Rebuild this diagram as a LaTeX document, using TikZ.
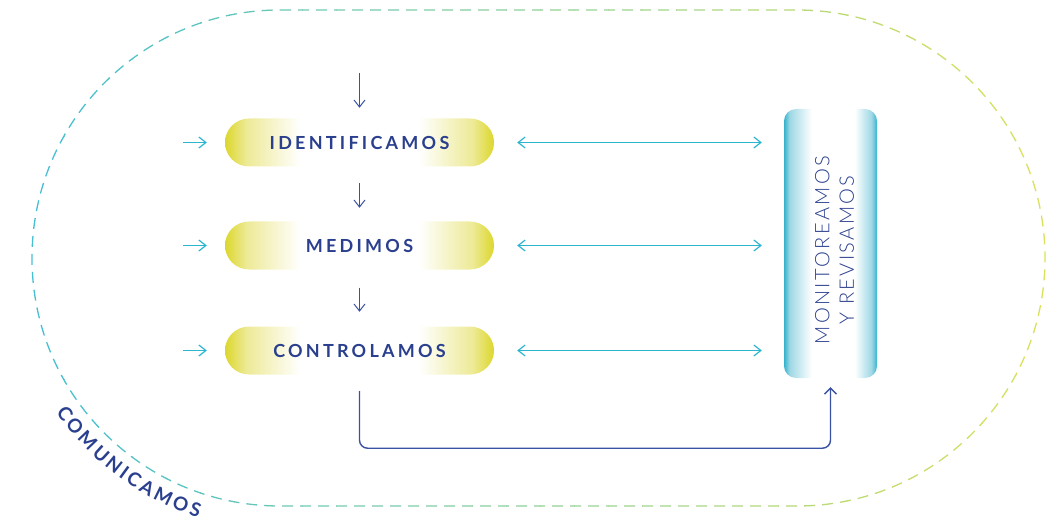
\documentclass[tikz,border=0pt]{standalone}
\usepackage{fontspec}
\usetikzlibrary{arrows.meta,decorations.text}
\newfontfamily\pillfont[LetterSpace=18]{Lato Bold}
\newfontfamily\comfont{Lato Bold}
\newfontfamily\monfont[LetterSpace=12]{Lato Light}
\definecolor{navy}{HTML}{2A3F8E}
\definecolor{navyar}{HTML}{3A52A2}
\definecolor{cyanar}{HTML}{2BB6D0}
\definecolor{pillyel}{HTML}{DCD72C}
\definecolor{pillyelL}{HTML}{EDEA97}
\definecolor{moncyan}{HTML}{36B3CC}
\definecolor{moncyanL}{HTML}{9ED8E5}
\definecolor{tealline}{HTML}{45BFD3}
\definecolor{yelline}{HTML}{DCE25A}
\pgfdeclarehorizontalshading{pillshade}{100bp}{color(0bp)=(pillyel); color(25bp)=(pillyel); color(29bp)=(pillyelL); color(39bp)=(white); color(61bp)=(white); color(71bp)=(pillyelL); color(75bp)=(pillyel); color(100bp)=(pillyel)}
\pgfdeclarehorizontalshading{monshade}{100bp}{color(0bp)=(moncyan); color(25bp)=(moncyan); color(28bp)=(moncyanL); color(40bp)=(white); color(63bp)=(white); color(72bp)=(moncyanL); color(75bp)=(moncyan); color(100bp)=(moncyan)}
\tikzset{
  pill/.style={shade, shading=pillshade, minimum width=269pt, minimum height=48pt,
    rounded corners=24pt, inner sep=0pt, text=navy,
    font={\pillfont\fontsize{18pt}{20pt}\selectfont}},
  monbox/.style={shade, shading=monshade, minimum width=93pt, minimum height=269pt,
    rounded corners=12pt, inner sep=0pt},
  montext/.style={text=navy, align=center, rotate=90, inner sep=0pt,
    font={\monfont\fontsize{20pt}{24.5pt}\selectfont}},
  inarrow/.style={draw=cyanar, line width=1.2pt, -{Straight Barb[length=7pt,width=11pt]}},
  dblarrow/.style={draw=cyanar, line width=1.2pt,
    {Straight Barb[length=7pt,width=11pt]}-{Straight Barb[length=7pt,width=11pt]}},
  downarrow/.style={draw=navyar, line width=1pt, -{Straight Barb[length=7pt,width=11pt]}},
  loopline/.style={draw=navyar, line width=1.4pt, rounded corners=8pt,
    -{Straight Barb[length=6pt,width=12pt]}},
  dashloop/.style={line width=1.3pt, dash pattern=on 11pt off 7pt},
}
\begin{document}
\begin{tikzpicture}[x=1pt,y=1pt]
\useasboundingbox (0,0) rectangle (1059,520);
% gradient dashed loop
\foreach \i in {0,...,29}{
  \pgfmathsetmacro\xa{30+\i*34}
  \pgfmathsetmacro\xb{30+(\i+1)*34+0.5}
  \pgfmathtruncatemacro\p{(\i+0.5)/30*100}
  \begin{scope}
    \clip (\xa,0) rectangle (\xb,520);
    \draw[dashloop, draw=yelline!\p!tealline]
      (280,510) -- (797,510) arc[start angle=90, end angle=-90, radius=248pt]
      -- (280,14) arc[start angle=270, end angle=90, radius=248pt] -- cycle;
  \end{scope}
}
% curved label
\begin{scope}
\comfont\fontsize{19pt}{21pt}\selectfont
\path[decorate, decoration={text along path, text align=fit to path,
  text={|\color{navy}|COMUNICAMOS}}]
  (280,262) ++(214.5:272pt) arc[start angle=214.5, end angle=252.5, radius=272pt];
\end{scope}

% nodes
\node[pill] (id) at (359.5,377.5) {IDENTIFICAMOS};
\node[pill] (me) at (359.5,274.5) {MEDIMOS};
\node[pill] (co) at (359.5,169.5) {CONTROLAMOS};
\node[monbox] (mon) at (830.5,276.5) {};
\node[montext] (montx) at (834.5,270) {MONITOREAMOS\\Y REVISAMOS};

\coordinate (top) at (359.5,447);
\coordinate (in1) at (183,377.5);
\coordinate (in2) at (183,274.5);
\coordinate (in3) at (183,169.5);

% vertical flow
\draw[downarrow, shorten >=10.5pt] (top) -- (id.north);
\draw[downarrow, shorten <=16.5pt, shorten >=13.5pt] (id.south) -- (me.north);
\draw[downarrow, shorten <=18pt, shorten >=14.5pt] (me.south) -- (co.north);

% inputs
\draw[inarrow, shorten >=18pt] (in1) -- (id.west);
\draw[inarrow, shorten >=18pt] (in2) -- (me.west);
\draw[inarrow, shorten >=18pt] (in3) -- (co.west);

% double arrows to monitor
\draw[dblarrow, shorten <=23pt, shorten >=22pt] (id.east) -- (id.east -| mon.west);
\draw[dblarrow, shorten <=23pt, shorten >=22pt] (me.east) -- (me.east -| mon.west);
\draw[dblarrow, shorten <=23pt, shorten >=22pt] (co.east) -- (co.east -| mon.west);

% feedback
\draw[loopline, shorten <=16.5pt, shorten >=9pt] (co.south) -- ++(0,-73.5) -| (mon.south);
\end{tikzpicture}
\end{document}
